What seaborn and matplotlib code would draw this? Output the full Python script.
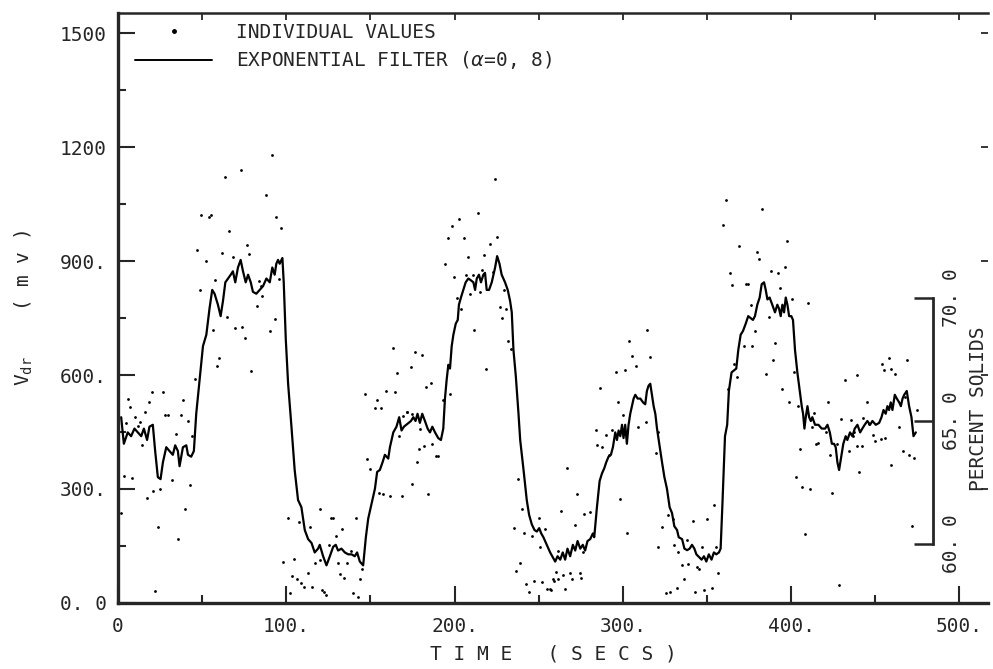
import pandas as pd
import matplotlib
matplotlib.use("Agg")
import matplotlib.pyplot as plt
import seaborn as sns
from matplotlib.lines import Line2D

# exponential filter curve (time in s, Vdr in mV)
line_t = [1.9, 3.5, 5.8, 7.8, 9.8, 11.8, 13.8, 15.4, 17.3, 18.7, 20.7, 22.1, 23.7, 25.3, 26.7,
          28.7, 30.6, 32.6, 34.0, 35.6, 36.6, 38.6, 40.6, 41.6, 43.5, 45.1, 46.5, 48.5, 50.5,
          52.5, 54.4, 56.0, 57.4, 59.4, 61.0, 62.4, 63.8, 65.4, 67.0, 68.3, 69.7, 71.3, 72.9,
          74.3, 75.9, 77.3, 78.9, 80.2, 82.2, 84.2, 86.2,
          88.2, 90.2, 91.7, 93.1, 94.1, 95.1, 96.1, 97.7, 98.5, 99.7, 101.1, 103.0, 105.0,
          107.0, 109.0, 111.0, 113.0, 115.0, 116.9, 118.9, 119.9, 121.9, 123.9, 125.9, 127.9,
          129.4, 130.8, 132.8, 134.8, 136.8, 138.8, 140.7, 142.1, 143.7, 145.7, 147.3, 148.7,
          150.7, 152.7, 154.0, 155.6, 157.2, 158.6, 160.6, 161.6, 163.6, 165.5, 167.1, 168.5,
          169.9,
          174.1, 175.5, 176.8, 178.0, 179.4, 180.8, 182.4, 184.0, 185.4, 186.8, 188.4, 190.3,
          191.9, 193.3, 194.3, 195.3, 196.3, 197.3, 198.3, 199.3, 200.7, 201.9, 202.6, 203.8,
          205.2, 206.6, 208.2, 209.8, 211.2, 212.2, 213.2, 214.5, 215.7, 217.1, 218.1, 219.1,
          220.5, 222.1, 223.1, 224.1, 225.3, 226.7, 228.0, 230.0, 231.6, 233.0, 234.0, 235.0,
          236.4, 238.0, 239.0, 241.0, 242.9, 244.3, 245.9, 247.5, 248.9, 250.3, 251.5, 252.8,
          254.8, 256.8,
          259.8, 261.2, 262.8, 264.3, 265.7, 267.1, 268.7, 270.3, 271.7, 273.1, 274.7, 276.2,
          277.6, 279.0, 280.6, 282.2, 283.0, 284.6, 286.2, 287.6, 289.0, 290.1, 291.5, 292.9,
          294.1, 295.5, 296.5, 297.5, 298.5, 299.5, 300.4, 301.4, 302.4, 303.4, 304.4, 305.4,
          306.4, 307.4, 308.8, 310.4, 312.0, 313.3, 314.3, 315.3, 316.3, 317.3, 318.3, 319.3,
          320.3, 321.3, 322.3, 323.3, 324.7, 326.2, 327.8, 329.2, 330.6, 332.2, 333.2, 335.2,
          336.6, 338.2, 339.7, 341.1, 342.5, 343.7,
          346.8, 348.2, 349.6, 351.1, 352.7, 354.1, 355.5, 357.1, 358.1, 359.1, 360.7, 362.0,
          363.0, 364.6, 366.0, 367.4, 368.6, 370.0, 371.4, 373.0, 374.5, 375.9, 377.3, 378.5,
          379.9, 381.3, 382.5, 383.9, 384.9, 385.9, 387.2, 388.8, 390.4, 391.8, 392.8, 393.8,
          394.8, 395.8, 396.8, 397.8, 398.8, 400.1, 401.1, 402.3, 403.7, 405.1, 406.3, 407.1,
          407.9, 408.7, 409.7, 410.7, 411.7, 412.6, 414.2, 416.2, 418.2, 420.2, 421.6, 423.0,
          424.2, 425.5, 426.5, 427.5, 428.5,
          431.0, 432.4, 433.4, 435.0, 436.4, 437.8, 439.4, 441.0, 442.3, 443.7, 445.3, 446.9,
          448.3, 450.3, 452.3, 453.7, 454.9, 456.2, 457.2, 458.2, 459.2, 460.2, 461.6, 462.8,
          464.2, 465.2, 466.2, 467.2, 468.7, 470.1, 471.5, 472.7, 474.1]
line_v = [489, 419, 449, 439, 459, 449, 439, 459, 429, 464, 469, 400, 331, 326, 370,
          410, 400, 390, 415, 400, 360, 410, 415, 390, 385, 400, 498, 587, 676,
          706, 775, 824, 814, 785, 755, 795, 844, 854, 864, 873, 844, 883, 903,
          873, 844, 864, 844, 819, 814, 824, 834,
          854, 844, 883, 864, 893, 903, 893, 908, 844, 696, 577, 469, 350,
          271, 252, 192, 168, 158, 133, 143, 153, 123, 99, 123, 148,
          153, 138, 143, 133, 128, 128, 123, 133, 109, 99, 173, 222,
          262, 301, 345, 350, 370, 390, 380, 410, 449, 464, 489, 454,
          464,
          479, 489, 479, 498, 474, 498, 479, 459, 449, 464, 449, 434,
          429, 459, 538, 587, 627, 617, 676, 706, 735, 745, 785, 804,
          824, 844, 854, 849, 844, 824, 854, 864, 844, 864, 869, 824,
          824, 844, 864, 883, 913, 893, 864, 844, 824, 795, 765, 666,
          597, 498, 429, 350, 271, 232, 207, 192, 188, 197, 183, 173,
          153, 133,
          109, 123, 114, 133, 114, 143, 123, 153, 138, 163, 143, 153,
          138, 163, 168, 183, 173, 252, 321, 341, 355, 370, 385, 390,
          410, 449, 429, 454, 439, 469, 434, 469, 419, 469, 498, 518,
          538, 548, 538, 538, 528, 523, 558, 572, 577, 548, 518, 498,
          459, 429, 400, 370, 331, 301, 252, 237, 202, 192, 173, 168,
          143, 139, 143, 153, 143, 128,
          114, 123, 109, 128, 114, 133, 128, 133, 143, 252, 439, 469,
          558, 607, 612, 617, 666, 706, 716, 735, 755, 750, 745, 755,
          785, 804, 839, 844, 824, 799, 804, 785, 765, 785, 775, 755,
          785, 765, 804, 785, 755, 755, 745, 666, 607, 558, 518, 498,
          459, 489, 518, 489, 479, 489, 469, 469, 459, 459, 469, 449,
          419, 419, 410, 370, 350,
          419, 439, 429, 449, 439, 459, 469, 449, 459, 469, 479, 469,
          479, 469, 474, 489, 508, 498, 518, 508, 528, 508, 548, 538,
          528, 518, 538, 548, 558, 518, 489, 439, 449]

# individual values
dot_t = [72.9, 63.4, 49.5, 55.0, 53.9, 65.8, 47.1, 76.9, 61.8, 68.5, 78.1, 52.3, 83.6, 57.8,
         85.2, 48.7, 82.4, 64.6, 56.2, 69.7, 73.7, 75.3, 60.2, 59.0, 79.3, 45.5, 5.8, 20.1,
         26.9, 18.5, 38.8, 7.4, 15.8, 28.1, 29.6, 37.6, 10.2, 41.5, 5.0, 13.0, 11.8, 34.4,
         43.9, 14.2, 3.5, 8.6, 32.0, 42.7, 20.9, 24.9, 17.0, 40.0, 1.9, 23.7, 35.6, 22.1,
         91.7, 87.8, 94.1, 96.9, 95.7, 85.8, 93.1, 90.2, 163.6, 166.0, 146.9, 159.2, 164.8,
         154.0, 152.5, 156.4, 171.5, 169.5, 167.1, 148.1, 149.7, 155.2, 157.6, 161.6, 168.7,
         100.9, 119.9, 126.7, 127.9, 141.3, 107.6, 114.4, 133.4, 129.4, 125.1, 98.1, 104.8,
         117.1, 120.3, 130.6, 138.6, 145.3, 103.2, 106.4, 108.8, 110.4, 113.2, 115.5, 131.8,
         134.6, 136.2, 144.1, 102.1, 121.1, 122.3, 123.9, 139.8, 142.5,
         224.1, 213.8, 202.6, 198.7, 195.9, 205.4, 225.3, 221.3, 217.3, 208.2, 194.3, 199.9,
         206.6, 211.0, 216.5, 222.9, 201.5, 203.8, 209.4, 214.9, 226.8, 230.8, 228.4, 229.6,
         211.8, 232.0, 233.6, 218.5, 176.5, 180.8, 174.1, 186.0, 183.2, 197.1, 193.1, 171.7,
         174.5, 179.2, 182.0, 186.8, 178.8, 188.8, 190.3, 177.6, 174.9, 184.4, 237.6, 240.3,
         235.2, 241.5, 245.9, 249.9, 253.8, 250.7, 238.8, 236.4, 242.7, 244.3, 247.1, 252.2,
         255.0, 257.0, 258.6,
         314.3, 303.6, 315.9, 305.6, 307.6, 295.7, 301.2, 286.2, 297.3, 300.1, 283.8, 290.1,
         293.3, 284.6, 287.8, 309.2, 313.5, 320.7, 291.7, 267.1, 319.9, 272.7, 298.5, 263.5,
         277.0, 280.2, 271.5, 326.6, 329.8, 341.7, 302.4, 323.1, 261.6, 321.1, 330.6, 333.0,
         338.1, 276.2, 335.0, 339.0, 344.1, 260.4, 264.7, 268.7, 274.3, 269.9, 275.4, 258.8,
         261.2, 265.9, 257.6, 336.2, 332.2, 328.2, 325.5, 342.9,
         361.1, 382.9, 359.5, 397.6, 369.0, 379.7, 380.9, 363.4, 388.0, 392.0, 396.4, 365.0,
         373.4, 374.2, 393.6, 376.1, 386.9, 400.7, 409.9, 378.5, 371.8, 376.9, 390.4, 389.2,
         366.2, 367.8, 385.3, 401.5, 362.2, 394.8, 398.8, 404.3, 413.8, 422.2, 412.2, 415.0,
         415.8, 420.6, 429.7, 432.1, 405.5, 423.0, 402.7, 406.7, 411.1, 424.2, 353.9, 349.9,
         408.3, 346.8, 355.1, 345.2, 356.3, 348.4, 352.7, 428.5,
         453.7, 458.4, 455.2, 459.6, 461.6, 469.1, 439.0, 444.9, 467.5, 474.7, 435.4, 442.9,
         446.1, 437.4, 436.6, 448.9, 450.1, 453.3, 456.0, 464.0, 427.5, 439.0, 442.2, 434.6,
         466.4, 470.3, 473.1, 440.6, 459.2, 471.9]
dot_v = [1140, 1120, 1022, 1022, 1017, 980, 928, 941, 921, 911, 918, 901, 847, 851,
         834, 824, 783, 753, 718, 723, 727, 698, 646, 625, 610, 589, 538, 555,
         555, 530, 535, 516, 503, 494, 495, 495, 489, 479, 474, 476, 467, 444,
         439, 417, 333, 329, 323, 311, 296, 299, 276, 247, 237, 199, 168, 32,
         1178, 1073, 1017, 987, 854, 809, 748, 716, 671, 605, 550, 558, 555,
         533, 513, 513, 503, 491, 439, 380, 352, 289, 286, 281, 281,
         224, 247, 224, 224, 224, 212, 200, 194, 175, 153, 109, 115,
         104, 114, 104, 138, 89, 72, 62, 52, 42, 79, 42, 76,
         66, 106, 64, 27, 33, 29, 20, 27, 15,
         1117, 1026, 1012, 992, 962, 962, 964, 946, 916, 911, 891, 858,
         862, 862, 876, 872, 802, 775, 814, 819, 780, 775, 750, 824,
         719, 689, 669, 617, 661, 653, 620, 579, 569, 551, 533, 503,
         498, 459, 414, 419, 405, 386, 386, 372, 313, 286, 326, 247,
         197, 185, 175, 224, 194, 148, 106, 84, 49, 30, 59, 56,
         37, 37, 62,
         718, 689, 648, 649, 625, 607, 612, 565, 528, 495, 456, 441,
         454, 417, 410, 464, 477, 449, 390, 355, 395, 286, 274, 242,
         235, 240, 204, 232, 222, 217, 185, 200, 138, 148, 153, 133,
         165, 135, 99, 102, 94, 82, 74, 79, 79, 64, 67, 59,
         62, 36, 35, 64, 39, 30, 25, 30,
         1061, 1038, 994, 954, 939, 923, 906, 869, 873, 868, 884, 836,
         839, 839, 830, 785, 753, 799, 789, 716, 676, 676, 684, 639,
         630, 594, 604, 609, 563, 563, 528, 518, 501, 528, 464, 419,
         421, 449, 484, 587, 405, 390, 331, 304, 301, 289, 257, 222,
         181, 148, 148, 89, 79, 33, 39, 46,
         629, 644, 612, 617, 602, 639, 599, 530, 543, 508, 481, 487,
         471, 449, 439, 441, 427, 431, 434, 464, 419, 412, 412, 400,
         400, 390, 382, 345, 362, 202]

x_ticks = [0, 100, 200, 300, 400, 500]
x_labels = ["0", "100.", "200.", "300.", "400.", "500."]
y_ticks = [0, 300, 600, 900, 1200, 1500]
y_labels = ["0. 0", "300.", "600.", "900.", "1200", "1500"]
pct_ticks = [60, 65, 70]
pct_labels = ["60. 0", "65. 0", "70. 0"]

curve = pd.DataFrame({"t": line_t, "v": line_v})
points = pd.DataFrame({"t": dot_t, "v": dot_v})

sns.set_style("ticks")
plt.rcParams["font.family"] = ["DejaVu Sans Mono", "DejaVu Sans"]
plt.rcParams["mathtext.fontset"] = "dejavusans"
FS = 14

fig = plt.figure(figsize=(9.93, 6.69), dpi=100)
ax = fig.add_axes([0.1188, 0.0987, 0.8762, 0.8819])

sns.scatterplot(data=points, x="t", y="v", ax=ax, color="black", s=4,
                linewidth=0, legend=False)
sns.lineplot(data=curve, x="t", y="v", ax=ax, color="black", lw=1.6,
             sort=False, estimator=None)

ax.set_xlim(0, 517)
ax.set_ylim(0, 1553)

# left / bottom axes
ax.set_xticks(x_ticks, x_labels)
ax.set_xticks([50, 150, 250, 350, 450], minor=True)
ax.set_yticks(y_ticks, y_labels)
ax.set_yticks([150, 450, 750, 1050, 1350], minor=True)
ax.tick_params(which="major", direction="in", length=12, width=1.5,
               labelsize=FS, pad=8, top=False, right=False)
ax.tick_params(which="minor", direction="in", length=6, width=1.5,
               top=False, right=False)
ax.tick_params(axis="x", pad=10)
for s in ["left", "bottom"]:
    ax.spines[s].set_linewidth(2.4)
ax.spines["top"].set_linewidth(1.8)
ax.spines["right"].set_visible(False)

# small ticks on the top edge and on the right edge
top = ax.secondary_xaxis("top")
top.set_xticks([50, 100, 150, 200, 250, 300, 350, 400, 450, 500], [])
top.tick_params(direction="in", length=5, width=1.3)
top.spines["top"].set_visible(False)
rt = ax.secondary_yaxis("right")
rt.set_yticks(y_ticks, [])
rt.tick_params(direction="in", length=5, width=1.3)
rt.spines["right"].set_visible(False)

# percent solids scale
def v2p(v):
    return 60 + (v - 155) / 64.8

def p2v(p):
    return 155 + (p - 60) * 64.8

pct = ax.secondary_yaxis(0.937, functions=(v2p, p2v))
pct.set_yticks(pct_ticks, pct_labels)
pct.spines["right"].set_bounds(60, 70)
pct.spines["right"].set_linewidth(2.0)
pct.tick_params(direction="in", length=14, width=1.8, labelsize=FS,
                labelrotation=90, pad=6)
for tk in pct.yaxis.get_major_ticks():
    tk.label1.set_verticalalignment("center")
    tk.label2.set_verticalalignment("center")
ax.text(0.989, 0.33, "PERCENT SOLIDS", transform=ax.transAxes, rotation=90,
        ha="center", va="center", fontsize=FS)

ax.set_xlabel("T I M E   ( S E C S )", fontsize=FS, labelpad=6)
ax.set_ylabel(r"V$_{\mathregular{dr}}$    ( m v )", fontsize=FS, labelpad=18)

handles = [Line2D([], [], marker="o", ms=2.5, color="black", ls="none"),
           Line2D([], [], color="black", lw=1.4)]
ax.legend(handles, ["INDIVIDUAL VALUES", r"EXPONENTIAL FILTER ($\alpha$=0, 8)"],
          loc="upper left", frameon=False, fontsize=FS, handlelength=4.0,
          handletextpad=1.2, labelspacing=0.4, borderaxespad=0.1,
          bbox_to_anchor=(0.008, 1.0))

fig.savefig("out.png", dpi=100)
